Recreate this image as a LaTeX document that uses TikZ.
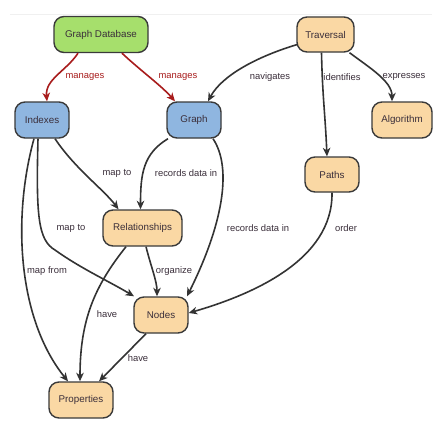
\documentclass[tikz,border=0pt]{standalone}
\usepackage{fontspec}
\setmainfont{Liberation Sans}
\usetikzlibrary{arrows.meta,calc}
\definecolor{gfill}{HTML}{A6DF6C}
\definecolor{bfill}{HTML}{8FB6E0}
\definecolor{ofill}{HTML}{FAD8A4}
\definecolor{bord}{HTML}{3A3A3A}
\definecolor{edgec}{HTML}{333333}
\definecolor{redc}{HTML}{A81C1C}
\definecolor{txt}{HTML}{3A2E3A}
\tikzset{
  box/.style={draw=bord, line width=1.4pt, rounded corners=10pt, inner sep=0pt,
    minimum height=36pt, font=\fontsize{9.8}{11}\selectfont, text=txt},
  gbox/.style={box, fill=gfill},
  bbox/.style={box, fill=bfill},
  obox/.style={box, fill=ofill},
  conn/.style={draw=edgec, line width=1.6pt, -{Stealth[length=8.5pt,width=7.5pt,inset=2.5pt]}},
  rconn/.style={conn, draw=redc},
  lbl/.style={font=\fontsize{9.4}{11}\selectfont, text=txt, inner sep=1pt},
  rlbl/.style={lbl, text=redc}
}
\begin{document}
\begin{tikzpicture}[x=1pt,y=-1pt]
\useasboundingbox (0,0) rectangle (446,420);
\fill[white] (0,0) rectangle (446,420);
\draw[black!6, line width=0.6pt] (10,14) -- (432,14);
% nodes
\node[gbox, minimum width=94pt] (gd) at (101,34.5) {Graph Database};
\node[obox, minimum width=57pt, minimum height=35pt] (trav) at (325.5,34.5) {Traversal};
\node[bbox, minimum width=54pt] (idx) at (42,120) {Indexes};
\node[bbox, minimum width=54pt] (graph) at (194,120) {Graph};
\node[obox, minimum width=60pt] (alg) at (402,120) {Algorithm};
\node[obox, minimum width=54pt, minimum height=35pt] (paths) at (332,174.5) {Paths};
\node[obox, minimum width=79pt] (rel) at (142.5,228) {Relationships};
\node[obox, minimum width=54pt] (nodes) at (161,315) {Nodes};
\node[obox, minimum width=64pt] (props) at (81,400) {Properties};
% connectors
\draw[rconn] ($(gd.south)+(-23,0)$) .. controls +(-12,18) and +(-2,-22) .. ($(idx.north)+(5,0)$);
\draw[rconn] ($(gd.south)+(21,0)$) .. controls +(18,17) and +(-14,-16) .. ($(graph.north)+(-19,0)$);
\draw[conn] ($(trav.west)+(1,10)$) .. controls +(-40,12) and +(14,-26) .. ($(graph.north)+(14,0)$);
\draw[conn] ($(trav.south)+(-4,0)$) .. controls +(1,45) and +(-2,-45) .. ($(paths.north)+(-5,0)$);
\draw[conn] ($(trav.south)+(24,0)$) .. controls +(20,15) and +(0,-20) .. ($(alg.north)+(-10,0)$);
\draw[conn] ($(idx.south)+(13,0)$) .. controls +(20,30) and +(-15,-20) .. ($(rel.north)+(-24,0)$);
\draw[conn] ($(graph.south)+(-26,0)$) .. controls +(-25,15) and +(0,-35) .. ($(rel.north)+(-2,0)$);
\draw[conn] ($(graph.south)+(19,0)$) .. controls +(20,30) and +(35,-70) .. ($(nodes.north)+(26,0)$);
\coordinate (bend) at (55,250);
\draw[conn] ($(idx.south)+(-4,0)$) .. controls +(-2,77) and +(-17,-10) .. (bend)
  .. controls +(25,18) and +(-25,-15) .. ($(nodes.north)+(-27,0)$);
\draw[conn] ($(idx.south)+(-8,0)$) .. controls +(-22,80) and +(-50,-62) .. ($(props.north)+(-13,0)$);
\draw[conn] ($(rel.south)+(3.5,0)$) .. controls +(5,20) and +(0,-15) .. ($(nodes.north)+(-4,0)$);
\draw[conn] ($(rel.south)+(-16.5,0)$) .. controls +(-31,39) and +(0,-62) .. ($(props.north)+(-1,0)$);
\draw[conn] (paths.south) .. controls +(1,68) and +(62,-18) .. ($(nodes.east)+(0,-2)$);
\draw[conn] ($(nodes.south)+(-15,0)$) -- ($(props.north)+(18,0)$);
% labels
\node[rlbl] (l1) at (85,77) {manages};
\node[rlbl] (l2) at (178,77) {manages};
\node[lbl] (l3) at (270,77) {navigates};
\node[lbl] (l4) at (342,77) {identifies};
\node[lbl] (l5) at (404,77) {expresses};
\node[lbl] (l6) at (117,173) {map to};
\node[lbl] (l7) at (186,173) {records data in};
\node[lbl] (l8) at (71,228) {map to};
\node[lbl] (l9) at (258,228) {records data in};
\node[lbl] (l10) at (346,228) {order};
\node[lbl] (l11) at (47,271) {map from};
\node[lbl] (l12) at (174,271) {organize};
\node[lbl] (l13) at (107,314) {have};
\node[lbl] (l14) at (138,358) {have};
\end{tikzpicture}
\end{document}
